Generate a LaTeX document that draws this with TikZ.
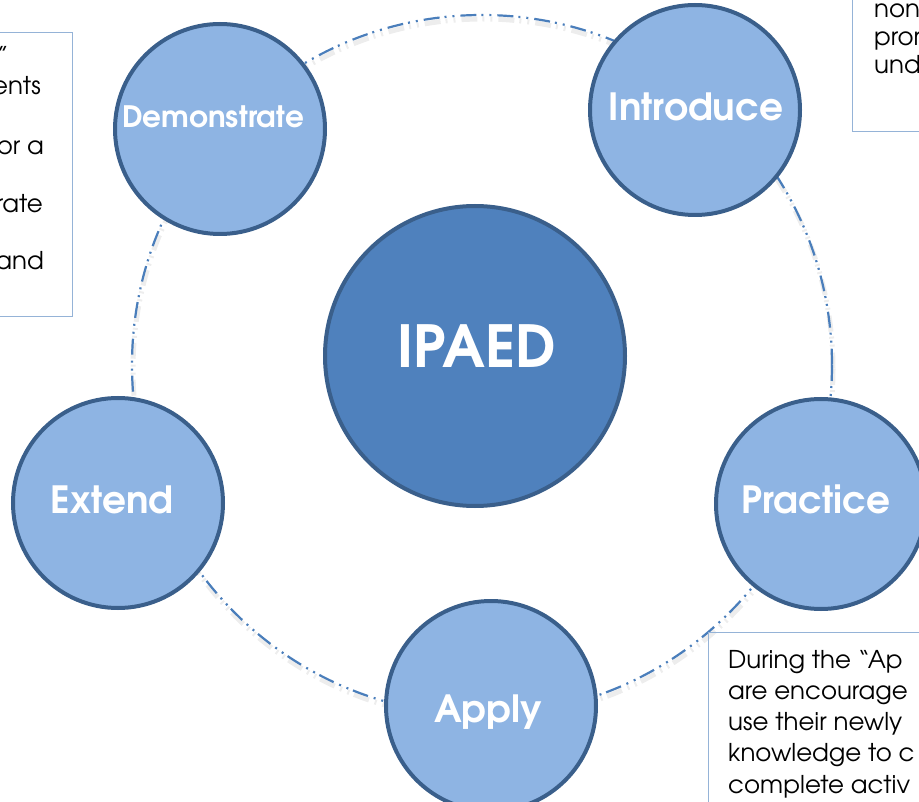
\documentclass[tikz,border=0pt]{standalone}
\usepackage{fontspec}
\setmainfont{texgyreadventor}[Extension=.otf,UprightFont=*-regular,BoldFont=*-bold]
\definecolor{ringblue}{HTML}{4A7EBB}
\definecolor{bubblefill}{HTML}{8EB4E3}
\definecolor{bubbleedge}{HTML}{3A5F8B}
\definecolor{hubfill}{HTML}{4F81BD}
\definecolor{boxedge}{HTML}{95B3D7}
\tikzset{
	bubble/.style={circle,draw=bubbleedge,line width=4pt,fill=bubblefill,minimum size=210pt,inner sep=0pt},
	hub/.style={circle,draw=bubbleedge,line width=4pt,fill=hubfill,minimum size=300pt,inner sep=0pt},
	tag/.style={text=white,anchor=base,inner sep=0pt,font=\bfseries\fontsize{37.5}{40}\selectfont},
	ring/.style={ringblue,line width=2.2pt,dash pattern=on 16pt off 5pt on 2pt off 6pt on 2pt off 6pt},
	ringshadow/.style={black!7,line width=5pt,dash pattern=on 16pt off 5pt on 2pt off 6pt on 2pt off 6pt},
	note/.style={draw=boxedge,line width=1pt},
	notetext/.style={inner sep=0pt,font=\fontsize{24.5}{28}\selectfont}
}
\begin{document}
\begin{tikzpicture}[x=1pt,y=-1pt]
	\useasboundingbox (0,0) rectangle (919,802);
	\clip (0,0) rectangle (919,802);
	% ring behind the bubbles
	\draw[ringshadow] (483,369) circle (350);
	\draw[ring] (482,365) circle (350);
	% hub
	\node[hub] (hub) at (475,356) {};
	\node[tag,font=\bfseries\fontsize{58}{64}\selectfont] (hubtag) at ([yshift=-12pt,xshift=2pt]hub.center) {IPAED};
	% bubbles
	\node[bubble] (demo) at (220,129) {};
	\node[tag,font=\bfseries\fontsize{29.5}{32}\selectfont] (demotag) at ([yshift=1pt,xshift=-7pt]demo.center) {Demonstrate};
	\foreach \x/\y/\nm/\txt/\dx/\dy in {695/110/intro/Introduce/1/-11, 821/504/prac/Practice/-5/-9,
		491/706/apply/Apply/-3/-16, 118/503/ext/Extend/-6/-10}
	{
		\node[bubble] (\nm) at (\x,\y) {};
		\node[tag] (\nm tag) at ([xshift=\dx pt,yshift=\dy pt]\nm.center) {\txt};
	}
	% notes
	\draw[note] (-10,33) rectangle (72,317);
	\node[notetext,anchor=base east] (l1) at (9,65) {”};
	\node[notetext,anchor=base east] (l2) at (41,95) {ents};
	\node[notetext,anchor=base east] (l3) at (44,155) {or a};
	\node[notetext,anchor=base east] (l4) at (43,213) {rate};
	\node[notetext,anchor=base east] (l5) at (44,270) {and};
	\draw[note] (852,-10) rectangle (930,132);
	\node[notetext,anchor=base west] (r1) at (874,18) {non};
	\node[notetext,anchor=base west] (r2) at (874,46) {pror};
	\node[notetext,anchor=base west] (r3) at (874,74) {und};
	\draw[note] (708,632) rectangle (930,812);
	\node[notetext,anchor=base west] (b1) at (728,668) {During the “Ap};
	\node[notetext,anchor=base west] (b2) at (728,699) {are encourage};
	\node[notetext,anchor=base west] (b3) at (728,730) {use their newly};
	\node[notetext,anchor=base west] (b4) at (728,761) {knowledge to c};
	\node[notetext,anchor=base west] (b5) at (728,793) {complete activ};
\end{tikzpicture}
\end{document}
